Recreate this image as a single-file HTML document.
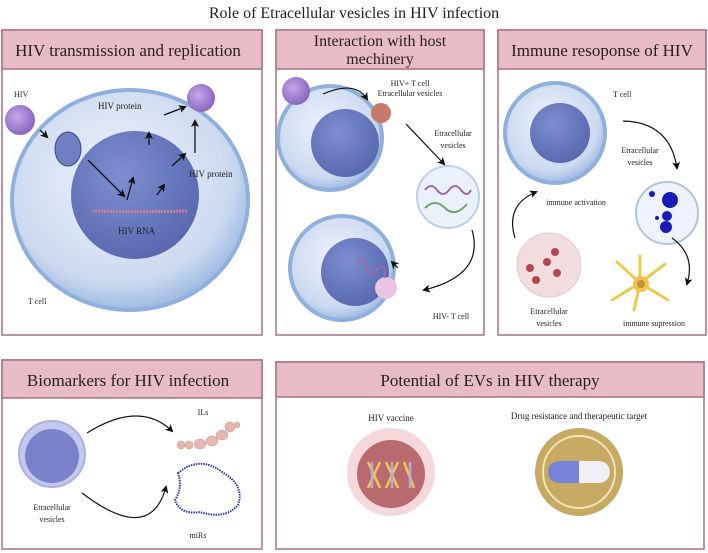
<!DOCTYPE html>
<html><head><meta charset="utf-8"><style>
html,body{margin:0;padding:0;background:#fff}
svg{display:block}
text{font-family:"Liberation Serif",serif;fill:#222}
</style></head><body>
<svg width="708" height="553" viewBox="0 0 708 553" xmlns="http://www.w3.org/2000/svg">
<defs>
<radialGradient id="cell" cx="45%" cy="40%" r="60%"><stop offset="0" stop-color="#eef3fb"/><stop offset="0.8" stop-color="#cbd9ef"/><stop offset="1" stop-color="#9fbbe2"/></radialGradient>
<radialGradient id="nuc" cx="40%" cy="35%" r="70%"><stop offset="0" stop-color="#7d8fd0"/><stop offset="1" stop-color="#5667ae"/></radialGradient>
<radialGradient id="vir" cx="40%" cy="40%" r="60%"><stop offset="0" stop-color="#c6a8e6"/><stop offset="1" stop-color="#8a67c2"/></radialGradient>
<marker id="ar" markerWidth="8" markerHeight="8" refX="6" refY="4" orient="auto" markerUnits="userSpaceOnUse"><path d="M0,0 L8,4 L0,8 L2,4Z" fill="#111"/></marker>
</defs>
<text x="354" y="18" font-size="16" text-anchor="middle">Role of  Etracellular vesicles in HIV infection</text>

<g stroke="#a9707e" stroke-width="1.5">
<rect x="2" y="30" width="260" height="305" fill="#fff"/><rect x="2" y="30" width="260" height="39" fill="#e8bcc6"/>
<rect x="276" y="30" width="208" height="305" fill="#fff"/><rect x="276" y="30" width="208" height="39" fill="#e8bcc6"/>
<rect x="498" y="30" width="208" height="305" fill="#fff"/><rect x="498" y="30" width="208" height="39" fill="#e8bcc6"/>
<rect x="2" y="360" width="260" height="189" fill="#fff"/><rect x="2" y="360" width="260" height="38" fill="#e8bcc6"/>
<rect x="276" y="362" width="428" height="187" fill="#fff"/><rect x="276" y="362" width="428" height="35" fill="#e8bcc6"/>
</g>
<text x="128" y="56" font-size="17" text-anchor="middle">HIV transmission and replication</text>
<text x="380" y="46" font-size="16" text-anchor="middle">Interaction with host</text>
<text x="380" y="64" font-size="16" text-anchor="middle">mechinery</text>
<text x="602" y="56" font-size="17" text-anchor="middle">Immune resoponse of HIV</text>
<text x="128" y="386" font-size="17" text-anchor="middle">Biomarkers for HIV infection</text>
<text x="490" y="386" font-size="17" text-anchor="middle">Potential of EVs in HIV therapy</text>

<!-- panel1 -->
<ellipse cx="130" cy="200" rx="118" ry="110" fill="url(#cell)" stroke="#8fb0dc" stroke-width="4"/>
<circle cx="135" cy="195" r="64" fill="url(#nuc)"/>
<ellipse cx="68" cy="149" rx="13" ry="17" fill="#6f7fc2" stroke="#3a4a8a"/>
<circle cx="20" cy="120" r="15" fill="url(#vir)"/>
<circle cx="201" cy="98" r="14" fill="url(#vir)"/>
<text x="14" y="97" font-size="8">HIV</text>
<text x="98" y="109" font-size="9">HIV  protein</text>
<text x="189" y="177" font-size="9">HIV  protein</text>
<text x="118" y="234" font-size="9">HIV RNA</text>
<text x="28" y="304" font-size="8">T cell</text>
<path d="M92,211 Q130,212 188,211" stroke="#c97fa0" stroke-width="3" fill="none" stroke-dasharray="2 1"/>
<g stroke="#111" stroke-width="1.3" fill="none" marker-end="url(#ar)">
<line x1="88" y1="160" x2="124" y2="196"/><line x1="127" y1="200" x2="133" y2="178"/>
<line x1="157" y1="195" x2="164" y2="185"/><line x1="172" y1="166" x2="185" y2="154"/>
<line x1="149" y1="145" x2="149" y2="133"/><line x1="195" y1="153" x2="195" y2="121"/>
<line x1="164" y1="115" x2="185" y2="107"/><line x1="40" y1="130" x2="47" y2="137"/>
</g>

<!-- panel2 -->
<circle cx="330" cy="138" r="52" fill="url(#cell)" stroke="#8fb0dc" stroke-width="4"/>
<circle cx="345" cy="143" r="34" fill="url(#nuc)"/>
<circle cx="342" cy="268" r="52" fill="url(#cell)" stroke="#8fb0dc" stroke-width="4"/>
<circle cx="355" cy="272" r="34" fill="url(#nuc)"/>
<circle cx="296" cy="91" r="14" fill="url(#vir)"/>
<circle cx="381" cy="113" r="10" fill="#c77a6a"/>
<circle cx="448" cy="197" r="31" fill="#eaf1fb" stroke="#bcd0ea" stroke-width="2"/>
<path d="M425,190 q6,-8 12,0 t12,0 t12,0 t10,0" stroke="#a06aa6" stroke-width="2" fill="none"/>
<path d="M425,208 q10,-10 20,0 t22,-4" stroke="#6aa66a" stroke-width="2" fill="none"/>
<circle cx="386" cy="288" r="11" fill="#e8c4e0"/>
<text x="410" y="86" font-size="8" text-anchor="middle">HIV+ T cell</text>
<text x="410" y="96" font-size="8" text-anchor="middle">Etracellular vesicles</text>
<text x="453" y="136" font-size="8" text-anchor="middle">Etracellular</text>
<text x="453" y="148" font-size="8" text-anchor="middle">vesicles</text>
<text x="451" y="319" font-size="8" text-anchor="middle">HIV- T cell</text>
<path d="M357,262 q8,-6 10,6 t10,2 t8,8" stroke="#a06aa6" stroke-width="2" fill="none"/>
<g stroke="#111" stroke-width="1.2" fill="none" marker-end="url(#ar)">
<path d="M323,94 Q355,80 367,99"/><line x1="406" y1="124" x2="444" y2="164"/>
<path d="M472,230 Q485,275 424,290"/><line x1="398" y1="268" x2="392" y2="262"/>
</g>

<!-- panel3 -->
<circle cx="555" cy="133" r="50" fill="url(#cell)" stroke="#8fb0dc" stroke-width="4"/>
<circle cx="560" cy="133" r="30" fill="url(#nuc)"/>
<text x="613" y="97" font-size="8">T cell</text>
<text x="640" y="153" font-size="8" text-anchor="middle">Etracellular</text>
<text x="640" y="165" font-size="8" text-anchor="middle">vesicles</text>
<text x="576" y="205" font-size="8" text-anchor="middle">immune activation</text>
<circle cx="667" cy="213" r="31" fill="#eef3ff" stroke="#a9c8e0" stroke-width="2"/>
<circle cx="670" cy="200" r="8" fill="#1a1ab8"/><circle cx="667" cy="216" r="5" fill="#1a1ab8"/><circle cx="666" cy="227" r="6" fill="#1a1ab8"/><circle cx="652" cy="194" r="3" fill="#1a1ab8"/><circle cx="657" cy="218" r="2" fill="#1a1ab8"/>
<circle cx="549" cy="265" r="32" fill="#f1dddd" stroke="#e6caca"/>
<circle cx="555" cy="252" r="4" fill="#b54750"/><circle cx="547" cy="262" r="4" fill="#b54750"/><circle cx="530" cy="268" r="4" fill="#b54750"/><circle cx="557" cy="273" r="4" fill="#b54750"/><circle cx="536" cy="280" r="4" fill="#b54750"/>
<g stroke="#f0c94a" stroke-width="3" stroke-linecap="round"><line x1="640" y1="283" x2="617" y2="262"/><line x1="640" y1="283" x2="665" y2="264"/><line x1="640" y1="283" x2="668" y2="300"/><line x1="640" y1="283" x2="612" y2="300"/><line x1="640" y1="283" x2="640" y2="256"/><line x1="640" y1="283" x2="634" y2="310"/></g>
<circle cx="641" cy="284" r="8" fill="#f2c14e"/><circle cx="641" cy="284" r="4" fill="#c98f3a"/>
<text x="549" y="314" font-size="8" text-anchor="middle">Etracellular</text>
<text x="549" y="326" font-size="8" text-anchor="middle">vesicles</text>
<text x="654" y="326" font-size="8" text-anchor="middle">immune supression</text>
<g stroke="#111" stroke-width="1.2" fill="none" marker-end="url(#ar)">
<path d="M623,121 Q670,122 677,168"/><path d="M672,238 Q696,255 687,284"/><path d="M515,238 Q505,205 536,192"/>
</g>

<!-- panel4 -->
<circle cx="52" cy="454" r="33" fill="#c3c8ee" stroke="#aab0e0" stroke-width="2"/>
<circle cx="52" cy="456" r="27" fill="#7b82cc"/>
<text x="52" y="510" font-size="8" text-anchor="middle">Etracellular</text>
<text x="52" y="522" font-size="8" text-anchor="middle">vesicles</text>
<text x="203" y="415" font-size="8" text-anchor="middle">ILs</text>
<text x="198" y="538" font-size="8" text-anchor="middle">miRs</text>
<g fill="#e6b7ac" stroke="#c9968c" stroke-width="0.5"><circle cx="181" cy="445" r="4"/><circle cx="189" cy="445" r="4"/><ellipse cx="200" cy="444" rx="6" ry="5"/><ellipse cx="212" cy="441" rx="6" ry="5"/><ellipse cx="222" cy="435" rx="6" ry="5"/><ellipse cx="230" cy="427" rx="5" ry="5"/><circle cx="237" cy="425" r="3"/></g>
<path d="M178,473 Q200,455 222,472 Q245,485 238,505 Q225,520 200,512 Q180,515 175,500 Q183,488 178,473Z" fill="none" stroke="#2a3ab0" stroke-width="2" stroke-dasharray="1.5 1"/>
<g stroke="#111" stroke-width="1.2" fill="none" marker-end="url(#ar)">
<path d="M87,433 Q140,400 172,431"/><path d="M82,493 Q150,545 166,487"/>
</g>

<!-- panel5 -->
<text x="391" y="421" font-size="9" text-anchor="middle">HIV vaccine</text>
<text x="579" y="419" font-size="9" text-anchor="middle">Drug resistance and therapeutic target</text>
<circle cx="391" cy="472" r="44" fill="#f4d8dc"/>
<circle cx="391" cy="474" r="34" fill="#b86a6e"/>
<g stroke-width="2.5"><path d="M368,462 L380,488 M380,462 L368,488 M386,462 L398,488 M398,462 L386,488 M404,462 L414,488" stroke="#efc94e" fill="none"/><path d="M372,462 V488 M392,462 V488 M410,462 V488" stroke="#b8a8e0"/></g>
<circle cx="579" cy="472" r="44" fill="#c8a962"/>
<circle cx="579" cy="472" r="36" fill="none" stroke="#f2e3b6" stroke-width="2"/>
<path d="M579,461 H559 a11,11 0 0 0 0,22 H579Z" fill="#7584d8"/>
<path d="M579,461 H599 a11,11 0 0 1 0,22 H579Z" fill="#eef0f4"/>
</svg>
</body></html>
